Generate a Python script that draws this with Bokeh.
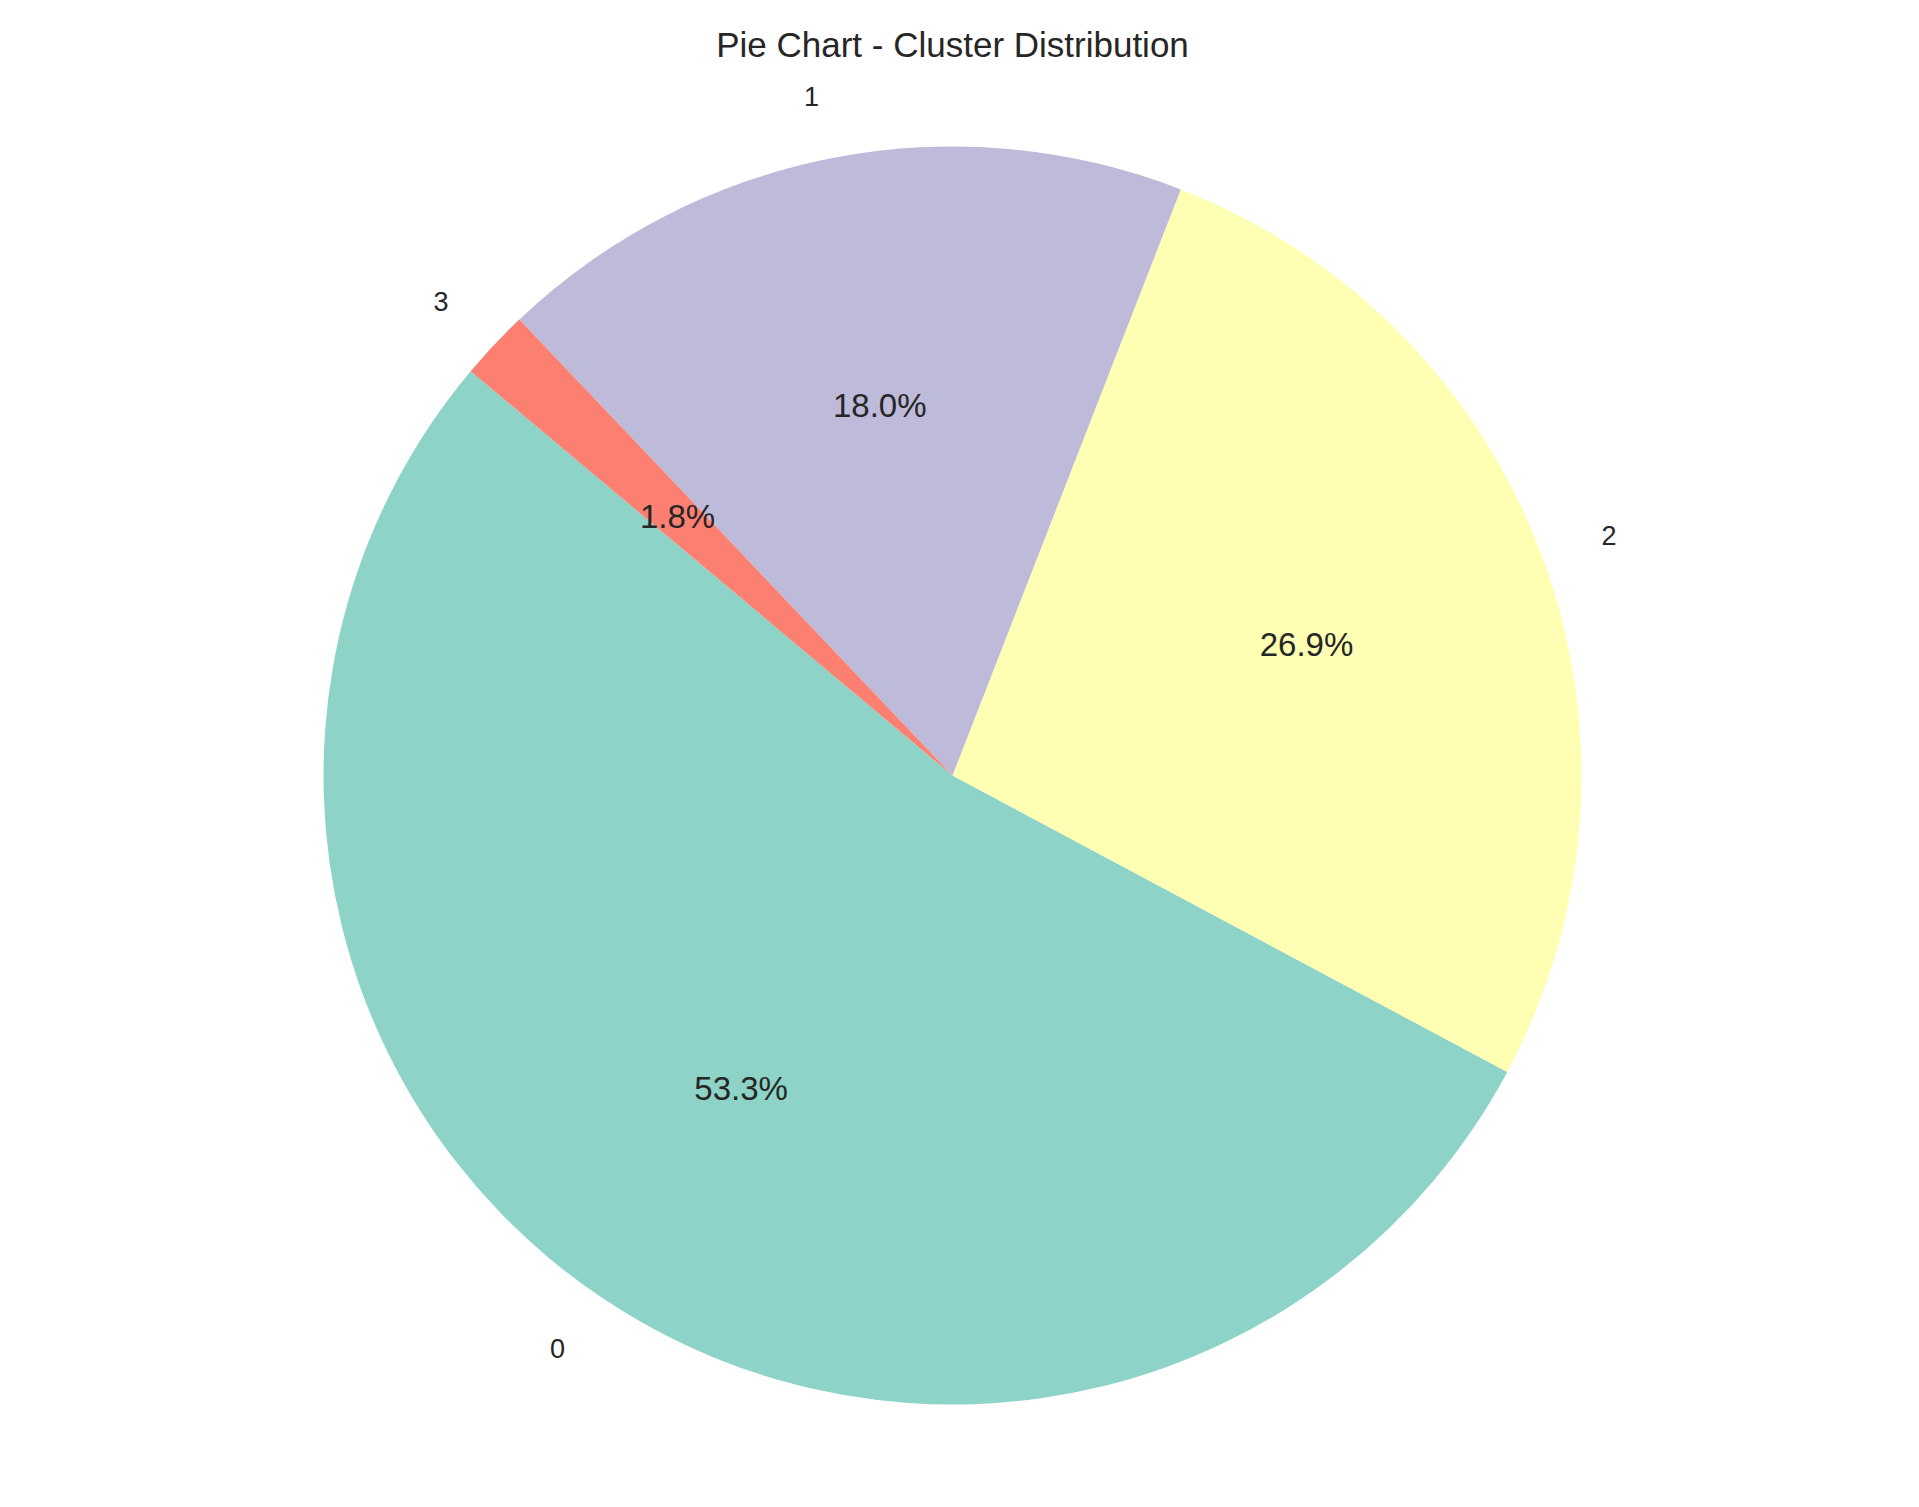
import numpy as np
from bokeh.plotting import figure
from bokeh.models import ColumnDataSource
from bokeh.core.properties import value
from bokeh.embed import file_html
from bokeh.resources import INLINE

# данные
clusters = ["0", "2", "1", "3"]
shares = [53.3, 26.9, 18.0, 1.8]
colors = ["#8dd3c7", "#ffffb3", "#bebada", "#fb8072"]
start_angle = 140

W, H = 1903, 1491
cx, cy, R = 952, H - 775, 629
font = value("Liberation Sans")

total = sum(shares)
angles = np.array(shares) / total * 2 * np.pi
starts = np.deg2rad(start_angle) + np.concatenate([[0], np.cumsum(angles)[:-1]])
ends = starts + angles
mids = (starts + ends) / 2

source = ColumnDataSource(data=dict(
    start=starts, end=ends, color=colors,
    lx=cx + 1.1 * R * np.cos(mids), ly=cy + 1.1 * R * np.sin(mids),
    px=cx + 0.6 * R * np.cos(mids), py=cy + 0.6 * R * np.sin(mids),
    name=clusters, pct=["{:.1f}%".format(s) for s in shares],
    align=["right" if np.cos(m) < 0 else "left" for m in mids],
))

p = figure(width=W, height=H, x_range=(0, W), y_range=(0, H),
           output_backend="svg", toolbar_location=None, min_border=0)
p.axis.visible = False
p.grid.grid_line_color = None
p.outline_line_color = None

p.wedge(x=cx, y=cy, radius=R, radius_units="screen", start_angle="start", end_angle="end",
        fill_color="color", line_color=None, source=source)

p.text(x="lx", y="ly", text="name", text_align="align", text_baseline="middle",
       text_font=font, text_font_size="27px", text_color="#262626", source=source)
p.text(x="px", y="py", text="pct", text_align="center", text_baseline="middle",
       text_font=font, text_font_size="33px", text_color="#262626", source=source)

p.text(x=[cx], y=[H - 44], text=["Pie Chart - Cluster Distribution"], text_align="center",
       text_baseline="middle", text_font=font, text_font_size="35px", text_color="#262626")

open("out.html", "w").write(file_html(p, INLINE))
